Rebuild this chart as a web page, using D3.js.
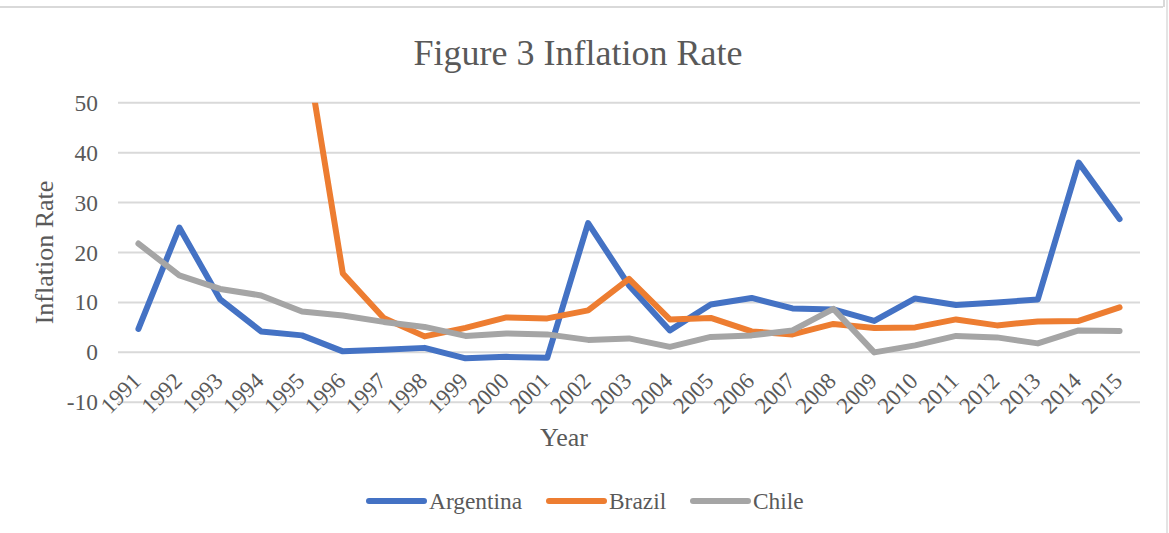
<!DOCTYPE html>
<html><head><meta charset="utf-8">
<script src="https://cdn.jsdelivr.net/npm/d3@7"></script>
<style>body{margin:0;background:#fff}svg{display:block}svg text{font-family:'Liberation Serif','Times New Roman',serif}</style>
</head><body>
<script>
const years = ["1991","1992","1993","1994","1995","1996","1997","1998","1999","2000","2001","2002","2003","2004","2005","2006","2007","2008","2009","2010","2011","2012","2013","2014","2015"];
const argentina = [4.7,25.0,10.6,4.2,3.4,0.2,0.5,0.9,-1.2,-0.9,-1.1,25.9,13.4,4.4,9.6,10.9,8.8,8.6,6.3,10.8,9.5,10.0,10.6,38.0,26.7];
const brazil = [null,null,null,null,66,15.8,6.9,3.2,4.9,7.0,6.8,8.4,14.7,6.6,6.9,4.2,3.6,5.7,4.9,5.0,6.6,5.4,6.2,6.3,9.0];
const chile = [21.8,15.4,12.7,11.4,8.2,7.4,6.1,5.1,3.3,3.8,3.6,2.5,2.8,1.1,3.1,3.4,4.4,8.7,0.0,1.4,3.3,3.0,1.8,4.4,4.3];
const seriesNames = ["Argentina","Brazil","Chile"];
const seriesColors = ["#4472C4","#ED7D31","#A5A5A5"];
const yTicks = [-10,0,10,20,30,40,50];

const W=1169,H=533;
const svg=d3.select("body").append("svg").attr("width",W).attr("height",H);

// faint frame lines
svg.append("line").attr("x1",0).attr("x2",1163).attr("y1",7).attr("y2",7).attr("stroke","#d9d9d9").attr("stroke-width",2);
svg.append("line").attr("x1",1164).attr("x2",1164).attr("y1",0).attr("y2",7).attr("stroke","#d9d9d9").attr("stroke-width",2);
svg.append("line").attr("x1",1167).attr("x2",1167).attr("y1",0).attr("y2",H).attr("stroke","#e4e4e4").attr("stroke-width",2);

const L=118,R=1140,T=102.7,B=402.3;
const x=d3.scaleBand().domain(years).range([L,R]);
const y=d3.scaleLinear().domain([-10,50]).range([B,T]);
const txt="#595959";

svg.append("text").attr("x",578).attr("y",65).attr("text-anchor","middle")
  .style("font-size","36px").attr("fill",txt).text("Figure 3 Inflation Rate");

// gridlines
svg.append("g").selectAll("line").data(yTicks).join("line")
  .attr("x1",L).attr("x2",R).attr("y1",d=>y(d)).attr("y2",d=>y(d))
  .attr("stroke","#d9d9d9").attr("stroke-width",2);

// y axis
const ya=svg.append("g").attr("transform",`translate(${L},0)`)
  .call(d3.axisLeft(y).tickValues(yTicks).tickSize(0).tickPadding(20).tickFormat(d=>String(d)));
ya.select(".domain").remove();
ya.selectAll("text").style("font-size","23.4px").attr("fill",txt);

// x axis
const xa=svg.append("g").attr("transform",`translate(0,${y(0)})`)
  .call(d3.axisBottom(x).tickSize(0));
xa.select(".domain").remove();
xa.selectAll("text").style("font-size","23px").attr("fill",txt)
  .attr("text-anchor","end").attr("dy",0).attr("y",0)
  .attr("transform","translate(4,30) rotate(-45)");

// axis titles
svg.append("text").attr("transform","translate(53,252.5) rotate(-90)").attr("text-anchor","middle")
  .style("font-size","26px").attr("fill",txt).text("Inflation Rate");
svg.append("text").attr("x",564).attr("y",446).attr("text-anchor","middle")
  .style("font-size","26px").attr("fill",txt).text("Year");

// clip
svg.append("clipPath").attr("id","pc").append("rect").attr("x",L-10).attr("y",T).attr("width",R-L+20).attr("height",B-T+10);

const line=d3.line().defined(d=>d!=null).x((d,i)=>x(years[i])+x.bandwidth()/2).y(d=>y(d));
const data=[argentina,brazil,chile];
svg.append("g").attr("clip-path","url(#pc)").selectAll("path").data(data).join("path")
  .attr("d",d=>line(d)).attr("fill","none")
  .attr("stroke",(d,i)=>seriesColors[i]).attr("stroke-width",6)
  .attr("stroke-linejoin","round").attr("stroke-linecap","round");

// legend
const legX=[369,549,693];
const lg=svg.append("g").selectAll("g").data(seriesNames).join("g")
  .attr("transform",(d,i)=>`translate(${legX[i]},501)`);
lg.append("line").attr("x1",0).attr("x2",55).attr("stroke",(d,i)=>seriesColors[i])
  .attr("stroke-width",6).attr("stroke-linecap","round");
lg.append("text").attr("x",60).attr("y",8).style("font-size","23.4px").attr("fill",txt).text(d=>d);
</script>
</body></html>
